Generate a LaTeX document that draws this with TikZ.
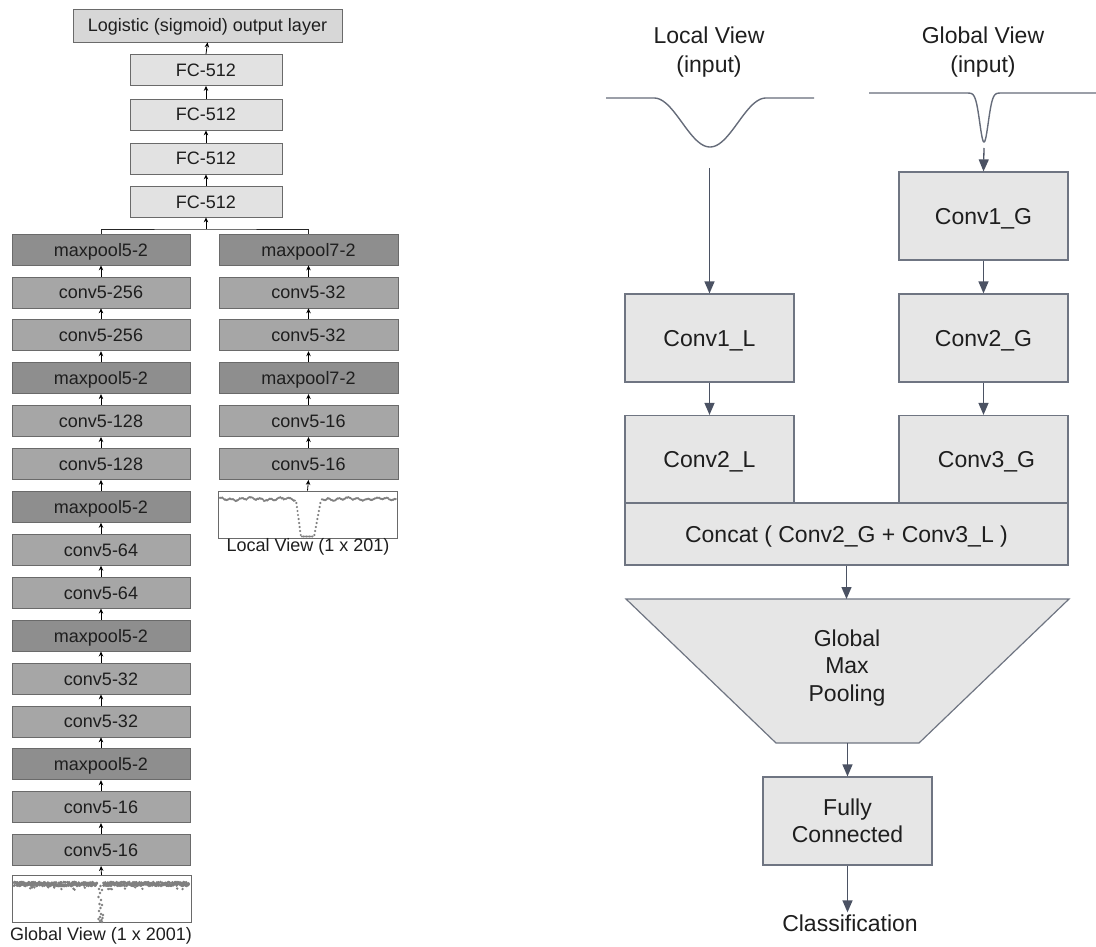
\documentclass[tikz,border=0pt]{standalone}
\usepackage{fontspec}
\setmainfont{Liberation Sans}
\usetikzlibrary{arrows.meta}
\definecolor{fclight}{HTML}{E2E2E2}
\definecolor{convgray}{HTML}{A6A6A6}
\definecolor{poolgray}{HTML}{8E8E8E}
\definecolor{lborder}{HTML}{6A6A6A}
\definecolor{rfill}{HTML}{E6E6E6}
\definecolor{rborder}{HTML}{6F7582}
\definecolor{slate}{HTML}{4B5263}
\definecolor{dotgray}{HTML}{808080}
\definecolor{txt}{HTML}{1E1E1E}
\begin{document}
\begin{tikzpicture}[x=1pt,y=-1pt,
  lbox/.style={draw=lborder, line width=0.8pt, inner sep=0pt, text height=13pt, text depth=0pt, font=\fontsize{18}{20}\selectfont, text=txt},
  fcbox/.style={lbox, fill=fclight, minimum width=152pt, minimum height=31pt},
  convbox/.style={lbox, fill=convgray, minimum width=178pt, minimum height=31pt},
  poolbox/.style={convbox, fill=poolgray},
  plotbox/.style={draw=lborder, line width=0.8pt, inner sep=0pt, minimum width=179pt, minimum height=47pt},
  ltext/.style={font=\fontsize{18}{20}\selectfont, text=txt, inner sep=1pt},
  uparr/.style={-{Stealth[length=5pt,width=4.5pt]}, line width=0.8pt, black},
  lline/.style={line width=0.8pt, black!85},
  rbox/.style={draw=rborder, line width=1.2pt, fill=rfill, minimum width=169pt, minimum height=88pt, inner sep=0pt, font=\fontsize{23}{27.5}\selectfont, align=center, text=txt},
  rtext/.style={font=\fontsize{23}{29}\selectfont, align=center, text=txt, inner sep=2pt},
  rarr/.style={-{Triangle[length=12pt,width=10pt]}, line width=1.3pt, slate},
  curve/.style={line width=1.4pt, slate!85},
  dotc/.style={fill=dotgray}
]
\useasboundingbox (0,0) rectangle (1096,947);

% ---------------- left diagram ----------------
\node[fcbox, minimum width=269pt, minimum height=33pt, fill=fclight!95!black] (out) at (207.5,25.5) {Logistic (sigmoid) output layer};
\node[fcbox] (fc1) at (206,70) {FC-512};
\node[fcbox] (fc2) at (206,114.5) {FC-512};
\node[fcbox] (fc3) at (206,158.5) {FC-512};
\node[fcbox] (fc4) at (206,201.5) {FC-512};
\draw[uparr] (fc1.north) -- (out.south);
\draw[uparr] (fc2.north) -- (fc1.south);
\draw[uparr] (fc3.north) -- (fc2.south);
\draw[uparr] (fc4.north) -- (fc3.south);

\foreach \i/\t/\s in {0/maxpool5-2/poolbox, 1/conv5-256/convbox, 2/conv5-256/convbox, 3/maxpool5-2/poolbox,
  4/conv5-128/convbox, 5/conv5-128/convbox, 6/maxpool5-2/poolbox, 7/conv5-64/convbox, 8/conv5-64/convbox,
  9/maxpool5-2/poolbox, 10/conv5-32/convbox, 11/conv5-32/convbox, 12/maxpool5-2/poolbox, 13/conv5-16/convbox, 14/conv5-16/convbox}
  {\node[\s] (L\i) at (101,{249.5+42.9*\i}) {\t};}
\foreach \i/\t/\s in {0/maxpool7-2/poolbox, 1/conv5-32/convbox, 2/conv5-32/convbox, 3/maxpool7-2/poolbox,
  4/conv5-16/convbox, 5/conv5-16/convbox}
  {\node[\s, minimum width=179pt] (R\i) at (308.5,{249.5+42.9*\i}) {\t};}
\foreach \i in {1,...,14}{\pgfmathtruncatemacro\j{\i-1}\draw[uparr] (L\i.north) -- (L\j.south);}
\foreach \i in {1,...,5}{\pgfmathtruncatemacro\j{\i-1}\draw[uparr] (R\i.north) -- (R\j.south);}

\coordinate (jn) at (206,229);
\draw[lline] (L0.north) |- (jn) -| (R0.north);
\draw[uparr] (jn) -- (fc4.south);

% global view plot
\node[plotbox] (gplot) at (101.5,899) {};
\draw[uparr] (gplot.north) -- (L14.south);
\node[ltext] (glab) at (101,936) {Global View (1 x 2001)};
\pgfmathsetseed{17}
\foreach \x in {14,14.6,...,189}{
  \pgfmathsetmacro\skip{(\x>97 && \x<103) ? 1 : 0}
  \ifdim\skip pt<0.5pt
    \pgfmathsetmacro\ya{884+2.0*rand}
    \pgfmathsetmacro\yb{884+2.0*rand}
    \fill[dotc] (\x,\ya) circle[radius=1.4pt];
    \fill[dotc] (\x,\yb) circle[radius=1.4pt];
    \pgfmathsetmacro\r{rand}
    \ifdim\r pt>0.93pt \fill[dotc] (\x,{888.5+1.5*rand}) circle[radius=1.3pt]; \fi
  \fi}
\foreach \p in {(99,889),(100,893),(98.5,897),(101,900),(99.5,904),(100.5,908),(99,911),(101,914),(100,917),(98.5,919),(100,921),(101.5,920),(102.5,918),(102,922),(103,915),(102,905),(100.5,886),(102,890)}
  {\fill[dotc] \p circle[radius=1.35pt];}

% local view plot (left diagram)
\node[plotbox] (lplot) at (307.5,514.5) {};
\draw[uparr] (lplot.north) -- (R5.south);
\node[ltext] (llab) at (308,547) {Local View (1 x 201)};
\foreach \x in {220,221.1,...,295}{
  \pgfmathsetmacro\ya{499+0.9*sin(\x*37)+0.8*sin(\x*11+40)+0.45*rand}
  \fill[dotc] (\x,\ya) circle[radius=1.2pt];}
\foreach \x in {322,323.1,...,396}{
  \pgfmathsetmacro\ya{499+0.9*sin(\x*37)+0.8*sin(\x*11+40)+0.45*rand}
  \fill[dotc] (\x,\ya) circle[radius=1.2pt];}
\foreach \y in {503,507,...,535}{
  \fill[dotc] ({296+(\y-500)/37*5},\y) circle[radius=1.2pt];
  \fill[dotc] ({321-(\y-500)/37*7},\y) circle[radius=1.2pt];}
\foreach \x in {302,303.5,...,313}{\fill[dotc] (\x,536.5) circle[radius=1.2pt];}

% ---------------- right diagram ----------------
\node[rtext] (lv) at (709,52.5) {Local View\\(input)};
\node[rtext] (gv) at (983,52.5) {Global View\\(input)};
\draw[curve] (606,98) -- plot[domain=654:766, samples=70] (\x,{98+24.5*(1+cos(180*(\x-710)/56))}) -- (814,98);
\draw[curve] (869,93) -- plot[domain=962:1006, samples=120] (\x,{93+49*exp(-((\x-984)/6)^2)}) -- (1096,93);

\node[rbox, text height=16.5pt, text depth=0pt] (g1) at (983.5,216) {Conv1\_G};
\node[rbox, text height=16.5pt, text depth=0pt] (g2) at (983.5,338) {Conv2\_G};
\node[rbox, text height=16.5pt, text depth=0pt] (g3) at (983.5,459.5) {\hspace*{6pt}Conv3\_G};
\node[rbox, text height=16.5pt, text depth=0pt] (l1) at (709.5,338) {Conv1\_L};
\node[rbox, text height=16.5pt, text depth=0pt] (l2) at (709.5,459.5) {Conv2\_L};
\node[rbox, minimum width=443pt, minimum height=62pt, text height=16.5pt, text depth=0pt] (cat) at (846.5,534) {Concat ( Conv2\_G + Conv3\_L )};

\coordinate (gdip) at (984,148);
\coordinate (ldip) at (709.5,168);
\draw[rarr] (gdip) -- (g1.north);
\draw[rarr] (ldip) -- (l1.north);
\draw[rarr] (g1.south) -- (g2.north);
\draw[rarr] (g2.south) -- (g3.north);
\draw[rarr] (l1.south) -- (l2.north);

\coordinate (t1) at (626,599);
\coordinate (t2) at (1069,599);
\coordinate (t3) at (919,743);
\coordinate (t4) at (776,743);
\coordinate (ttop) at (846.5,599);
\coordinate (tbot) at (847.5,743);
\draw[draw=rborder, line width=1.2pt, fill=rfill, line join=miter] (t1) -- (t2) -- (t3) -- (t4) -- cycle;
\node[rtext, font=\fontsize{23}{27.5}\selectfont] (gmp) at (847,668) {Global\\Max\\Pooling};
\draw[rarr] (cat.south) -- (ttop);

\node[rbox] (fc) at (847.5,821) {Fully\\Connected};
\draw[rarr] (tbot) -- (fc.north);
\node[rtext] (cls) at (850,923) {Classification};
\draw[rarr] (fc.south) -- (fc.south |- cls.north);
\end{tikzpicture}
\end{document}
